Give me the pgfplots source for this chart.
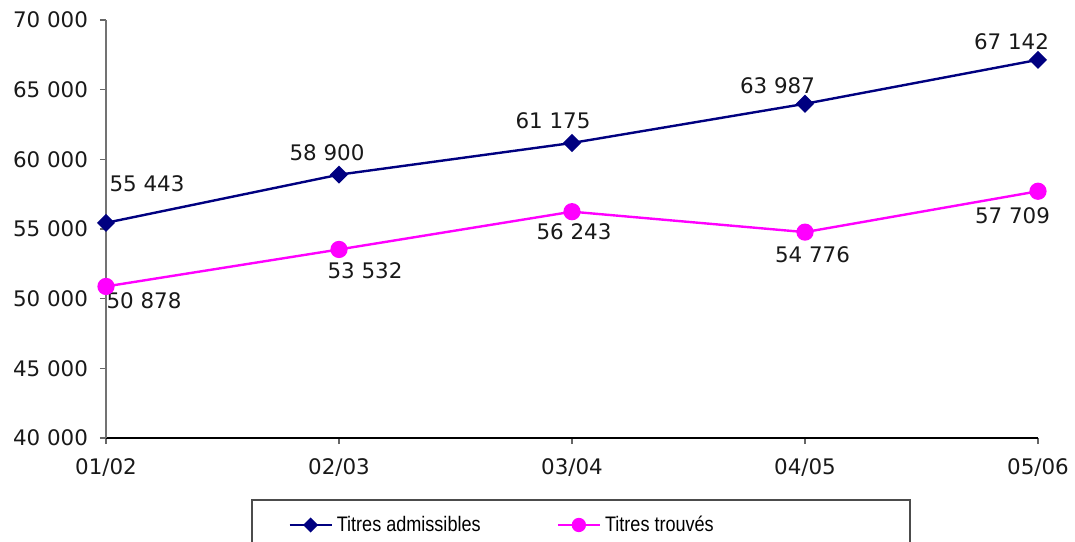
\documentclass[border=0pt]{standalone}
\usepackage{graphicx}
\usepackage{pgfplots}
\pgfplotsset{compat=1.18}
\usepackage{fontspec}
\setmainfont{DejaVu Sans}
\newfontfamily\legfont{Liberation Sans}
\definecolor{navyc}{RGB}{0,0,128}
\definecolor{magc}{RGB}{255,0,255}
\newcommand{\lf}{\fontsize{10.7pt}{12pt}\selectfont}
\begin{document}
\begin{tikzpicture}
\begin{axis}[
  at={(53pt,51.5pt)}, anchor=south west,
  scale only axis, width=466pt, height=209pt,
  xmin=0, xmax=4, ymin=40000, ymax=70000,
  axis x line=bottom, axis y line=left,
  axis line style={-},
  x axis line style={black, line width=0.6pt},
  y axis line style={black!55, line width=0.6pt},
  xtick={0,1,2,3,4},
  xticklabels={01/02,02/03,03/04,04/05,05/06},
  ytick={40000,45000,50000,55000,60000,65000,70000},
  yticklabels={40 000,45 000,50 000,55 000,60 000,65 000,70 000},
  scaled y ticks=false,
  tick align=outside, major tick length=3pt,
  tick style={black!60, line width=0.6pt},
  tick label style={font=\lf, text=black!90},
  yticklabel style={xshift=-2.5pt},
  xticklabel style={yshift=-4pt},
  clip=false,
  legend style={draw=none, fill=none, at={(0.1953,-0.2081)}, anchor=west,
    font=\legfont\fontsize{10.5pt}{12pt}\selectfont, inner sep=0pt,
    legend columns=2,
    /tikz/every even column/.append style={column sep=36pt}},
  legend cell align=left,
  legend image code/.code={\draw[mark repeat=2, mark phase=2, #1, every mark/.append style={scale=0.8}] plot coordinates {(0pt,0pt) (10.5pt,0pt) (21pt,0pt)};},
]
\addplot[navyc, line width=1.2pt, mark=square*, mark size=2.6pt, mark options={rotate=45, solid, fill=navyc}]
  coordinates {(0,55443) (1,58900) (2,61175) (3,63987) (4,67142)};
\addlegendentry{\scalebox{0.86}[1]{Titres admissibles}}
\addplot[magc, line width=1.2pt, mark=*, mark size=3.7pt, mark options={solid, fill=magc}]
  coordinates {(0,50878) (1,53532) (2,56243) (3,54776) (4,57709)};
\addlegendentry{\scalebox{0.86}[1]{Titres trouvés}}

\begin{scope}[every node/.style={font=\lf, text=black!90, inner sep=0pt}]
\node at (axis cs:0,55443) [xshift=20.5pt, yshift=19.5pt] {55 443};
\node at (axis cs:1,58900) [xshift=-6pt, yshift=10.75pt] {58 900};
\node at (axis cs:2,61175) [xshift=-9.5pt, yshift=11pt] {61 175};
\node at (axis cs:3,63987) [xshift=-13.75pt, yshift=9.25pt] {63 987};
\node at (axis cs:4,67142) [xshift=-13.25pt, yshift=9.25pt] {67 142};
\node at (axis cs:0,50878) [xshift=19pt, yshift=-7pt] {50 878};
\node at (axis cs:1,53532) [xshift=13pt, yshift=-10.75pt] {53 532};
\node at (axis cs:2,56243) [xshift=1pt, yshift=-10.25pt] {56 243};
\node at (axis cs:3,54776) [xshift=3.75pt, yshift=-11.25pt] {54 776};
\node at (axis cs:4,57709) [xshift=-12.75pt, yshift=-12pt] {57 709};
\end{scope}
\draw[black!70, line width=0.8pt] (rel axis cs:0.1567,-0.1483) rectangle (rel axis cs:0.8627,-0.32);
\end{axis}
\pgfresetboundingbox
\useasboundingbox (0,0) rectangle (537.5pt,270.5pt);
\end{tikzpicture}
\end{document}
